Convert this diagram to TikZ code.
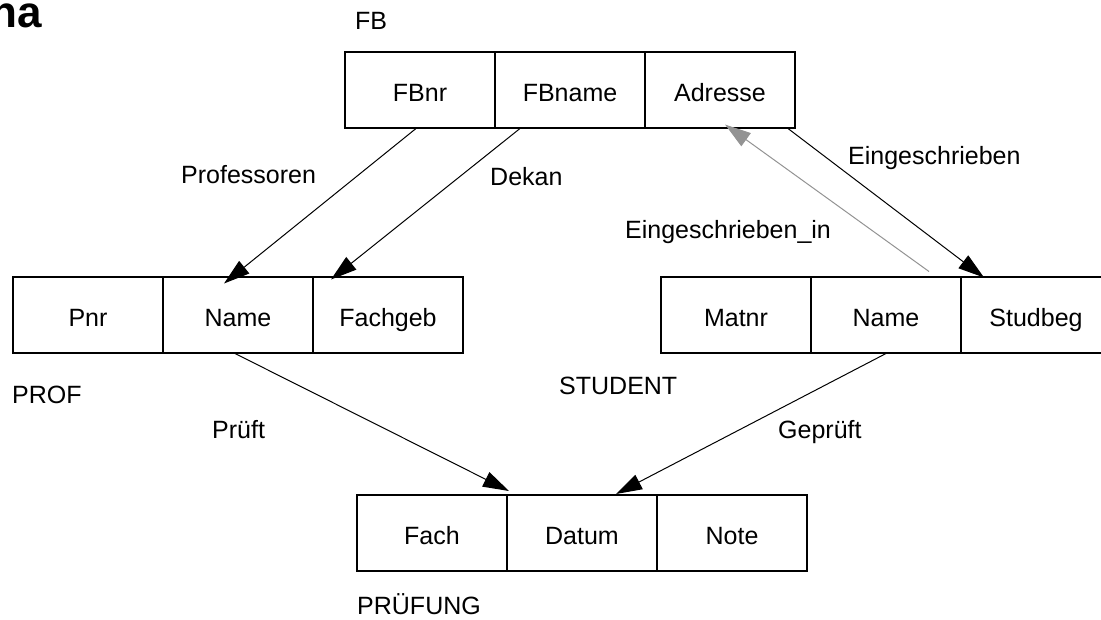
\documentclass[tikz,border=0pt]{standalone}
\usepackage{fontspec}
\setmainfont{Liberation Sans}
\usetikzlibrary{arrows.meta,calc}
\begin{document}
\begin{tikzpicture}[x=1pt,y=-1pt,
  cell/.style={draw,line width=2pt,minimum width=150pt,minimum height=76pt,inner sep=0pt,text height=23pt,text depth=0pt,font=\fontsize{25}{30}\selectfont},
  lbl/.style={anchor=west,inner sep=0pt,font=\fontsize{25}{30}\selectfont},
  rel/.style={line width=1pt,-{Triangle[length=26pt,width=16pt]}},
  relgray/.style={rel,draw=gray!85,-{Triangle[length=26pt,width=16pt,fill=gray!85]}}]
\useasboundingbox (0,0) rectangle (1101,619);
% title fragment
\node[anchor=base east,inner sep=0pt,font=\fontsize{44}{50}\selectfont\bfseries] (title) at (42,27) {na};
% FB
\node[cell] (fbnr) at (420,89.5) {FBnr};
\node[cell] (fbname) at (570,89.5) {FBname};
\node[cell] (adr) at (720,89.5) {Adresse};
\node[lbl] (lfb) at (355,21) {FB};
% PROF
\node[cell] (pnr) at (88,314.5) {Pnr};
\node[cell] (pname) at (238,314.5) {Name};
\node[cell] (fach) at (388,314.5) {Fachgeb};
\node[lbl] (lprof) at (12,395) {PROF};
% STUDENT
\node[cell] (matnr) at (736,314.5) {Matnr};
\node[cell] (sname) at (886,314.5) {Name};
\node[cell] (studbeg) at (1036,314.5) {Studbeg};
\node[lbl] (lstud) at (559,386) {STUDENT};
% PRUEFUNG
\node[cell] (pfach) at (432,533) {Fach};
\node[cell] (datum) at (582,533) {Datum};
\node[cell] (note) at (732,533) {Note};
\node[lbl] (lpr) at (357,604) {PRÜFUNG};
% connectors
\draw[rel] ($(fbnr.south)+(-4,0)$) -- ($(pname.north west)+(62,8)$);
\draw[rel] ($(fbname.south west)+(26,0)$) -- ($(fach.north west)+(19,4)$);
\draw[rel] ($(adr.south east)+(-8,0)$) -- ($(studbeg.north west)+(24,2)$);
\draw[relgray] ($(sname.north east)+(-33,-4)$) -- ($(adr.south west)+(81,-4)$);
\draw[rel] ($(pname.south)+(-3,0)$) -- ($(pfach.north east)+(1,-3)$);
\draw[rel] (sname.south) -- ($(datum.north west)+(110,0)$);
% relationship labels
\node[lbl] (lprofs) at (181,175) {Professoren};
\node[lbl] (ldekan) at (490,177) {Dekan};
\node[lbl] (lein) at (848,158) {Eingeschrieben};
\node[lbl] (leinin) at (625,232) {Eingeschrieben\_in};
\node[lbl] (lprueft) at (212,430) {Prüft};
\node[lbl] (lgepr) at (778,432) {Geprüft};
\end{tikzpicture}
\end{document}
